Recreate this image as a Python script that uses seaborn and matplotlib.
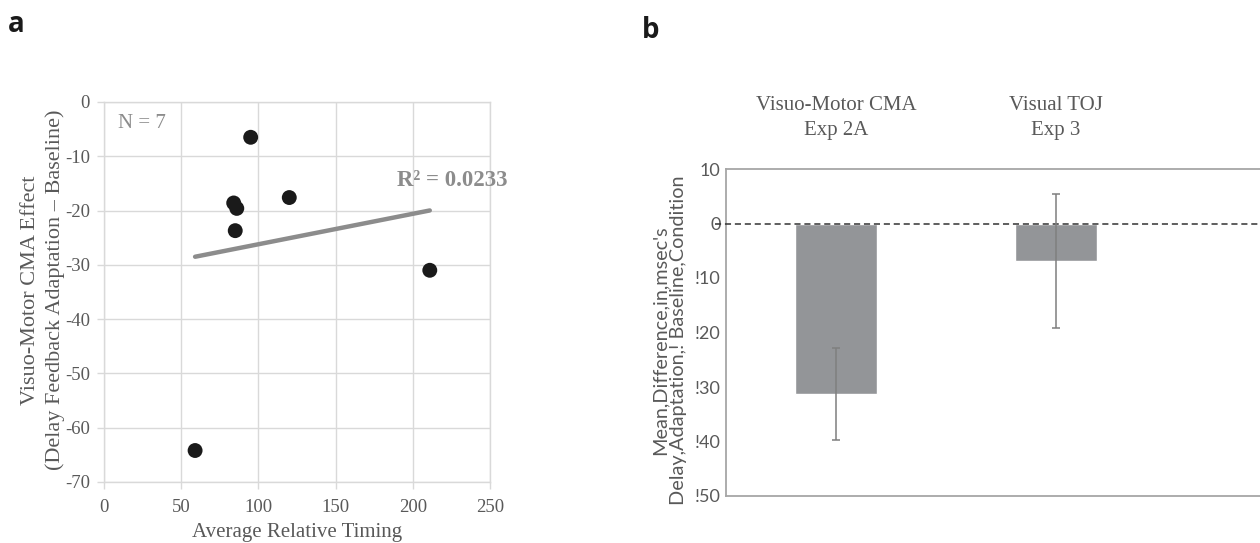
import numpy as np
import pandas as pd
import matplotlib
matplotlib.use("Agg")
import matplotlib.pyplot as plt
import seaborn as sns

# ---------------- data: panel a ----------------
timing = [59, 95, 84, 86, 85, 120, 211]
cma_effect = [-64.2, -6.5, -18.6, -19.6, -23.7, -17.6, -31.0]
a_xticks = [0, 50, 100, 150, 200, 250]
a_yticks = [0, -10, -20, -30, -40, -50, -60, -70]
n_label = "N = 7"
r2_label = "R² = 0.0233"

# ---------------- data: panel b ----------------
conditions = ["Visuo-Motor CMA\nExp 2A", "Visual TOJ\nExp 3"]
mean_diff = [-31.3, -6.9]
err_half = [8.45, 12.3]
b_yticks = [10, 0, -10, -20, -30, -40, -50]
b_yticklabels = ["10", "0", "!10", "!20", "!30", "!40", "!50"]

sns.set_style("white")
plt.rcParams["font.family"] = ["Liberation Serif", "DejaVu Serif"]
plt.rcParams["axes.unicode_minus"] = False

SERIF = ["Liberation Serif", "DejaVu Serif"]
SANS = ["Lato", "DejaVu Sans"]
TXT = "#595959"

fig = plt.figure(figsize=(12.6, 5.43), dpi=100)
W, H = 1260.0, 543.0

# ---------------- panel a ----------------
ax1 = fig.add_axes([104 / W, 1 - 482 / H, (490 - 104) / W, (482 - 102) / H])
df_a = pd.DataFrame({"timing": timing, "effect": cma_effect})
sns.regplot(data=df_a, x="timing", y="effect", ax=ax1, scatter=False, ci=None,
            truncate=True,
            line_kws=dict(color="#8c8c8c", lw=3.2, solid_capstyle="round", zorder=2))
sns.scatterplot(data=df_a, x="timing", y="effect", ax=ax1, s=115, color="#1a1a1a",
                edgecolor="none", zorder=3)
ax1.set_xlim(0, 250)
ax1.set_ylim(-70, 0)
ax1.set_xticks(a_xticks)
ax1.set_yticks(a_yticks)
ax1.grid(True, color="#d9d9d9", lw=1)
ax1.set_axisbelow(True)
for sp in ax1.spines.values():
    sp.set_color("#d9d9d9")
    sp.set_linewidth(1)
ax1.tick_params(axis="both", which="both", length=5, width=1, color="#d9d9d9",
                labelcolor=TXT, labelsize=13.5)
ax1.tick_params(axis="x", pad=7, bottom=True)
ax1.tick_params(axis="y", pad=5, left=True)
for lab in ax1.get_xticklabels() + ax1.get_yticklabels():
    lab.set_family(SERIF)
ax1.set_xlabel("Average Relative Timing", fontsize=15, color=TXT, family=SERIF, labelpad=5)
ax1.set_ylabel("Visuo-Motor CMA Effect\n(Delay Feedback Adaptation – Baseline)",
               fontsize=16, color=TXT, family=SERIF, linespacing=1.35)
ax1.yaxis.set_label_coords((65 - 104) / 386, (482 - 290) / 380)
ax1.text(9, -4.0, n_label, fontsize=15, color="#8c8c8c", family=SERIF,
         va="center", ha="left")
ax1.text(190, -14.4, r2_label, fontsize=16.5, color="#8c8c8c", family=SERIF,
         fontweight="bold", va="center", ha="left", clip_on=False)

# ---------------- panel b ----------------
ax2 = fig.add_axes([726 / W, 1 - 496 / H, 660 / W, (496 - 169) / H])
df_b = pd.DataFrame({"condition": conditions, "mean": mean_diff, "err": err_half})
sns.barplot(data=df_b, x="condition", y="mean", ax=ax2, color="#939598",
            width=0.37, errorbar=None, saturation=1, zorder=2)
ax2.errorbar(x=np.arange(len(conditions)), y=df_b["mean"], yerr=df_b["err"],
             fmt="none", ecolor="#7f7f7f", elinewidth=1.1, capsize=2.6,
             capthick=1.1, zorder=4)
ax2.axhline(0, xmin=-0.017, xmax=1, color="#333333", lw=1.1,
            ls=(0, (4, 2.5)), clip_on=False, zorder=3)
ax2.set_xlim(-0.5, 2.5)
ax2.set_ylim(-50, 10)
ax2.set_yticks(b_yticks)
ax2.set_yticklabels(b_yticklabels)
ax2.xaxis.tick_top()
ax2.set_xticks(np.arange(len(conditions)))
ax2.set_xticklabels(conditions)
ax2.tick_params(axis="x", length=0, pad=21, labelsize=15, labelcolor=TXT)
ax2.tick_params(axis="y", length=0, pad=4, labelsize=13, labelcolor=TXT)
for lab in ax2.get_xticklabels():
    lab.set_family(SERIF)
    lab.set_linespacing(1.45)
for lab in ax2.get_yticklabels():
    lab.set_family(SANS)
ax2.set_xlabel("")
ax2.set_ylabel("Mean,Difference,in,msec's\nDelay,Adaptation,! Baseline,Condition",
               fontsize=14.3, color=TXT, family=SANS, linespacing=1.1)
ax2.yaxis.set_label_coords((687 - 726) / 660, (496 - 340) / 327)
for sp in ax2.spines.values():
    sp.set_color("#a6a6a6")
    sp.set_linewidth(1.3)

# panel letters
fig.text(8 / W, 1 - 32 / H, "a", fontsize=20, fontweight="bold",
         family=["Open Sans", "DejaVu Sans"], color="#1a1a1a", va="baseline")
fig.text(642 / W, 1 - 38 / H, "b", fontsize=20, fontweight="bold",
         family=["Open Sans", "DejaVu Sans"], color="#1a1a1a", va="baseline")

fig.savefig("out.png", dpi=100)
